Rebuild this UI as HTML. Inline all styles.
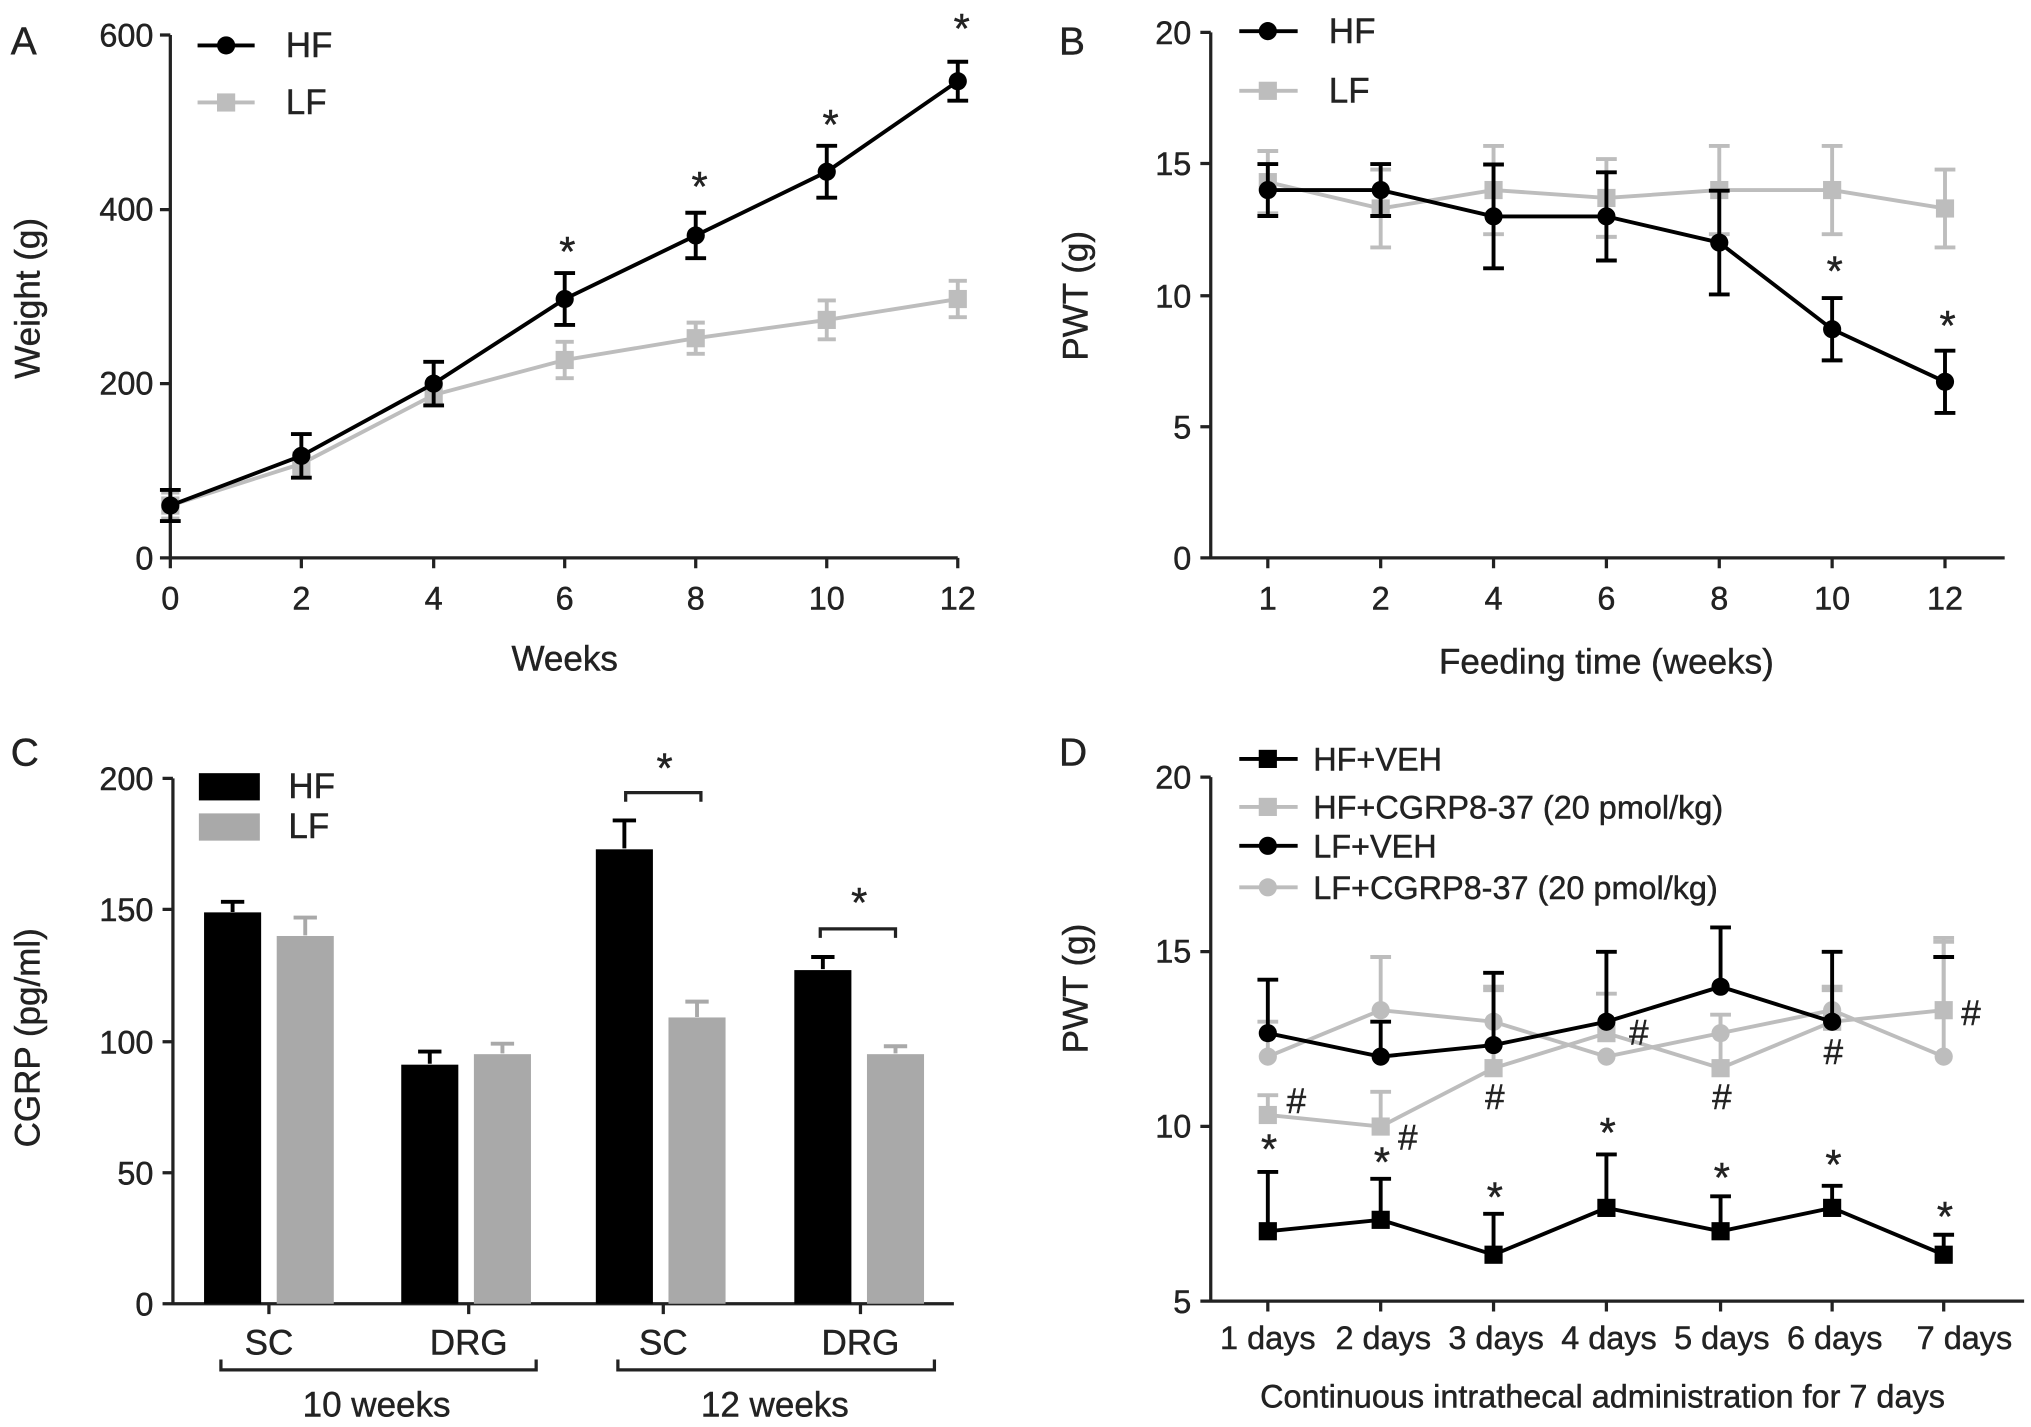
<!DOCTYPE html>
<html><head><meta charset="utf-8"><style>
html,body{margin:0;padding:0;background:#fff}
svg{display:block}
text{font-family:"Liberation Sans",Arial,sans-serif;fill:#222;stroke:#222;stroke-width:0.35px}
.t{font-size:25px}
.lg{font-size:27px}
.st{font-size:32px}
.k{stroke:#000;stroke-width:3;fill:none}
.g{stroke:#bdbdbd;stroke-width:3;fill:none}
.ax{stroke:#222;stroke-width:2.5;fill:none}
</style></head><body>
<svg width="2031" height="1427" viewBox="0 0 1565 1100" xmlns="http://www.w3.org/2000/svg">
<!-- ================= PANEL A ================= -->
<text x="8" y="42" style="font-size:30px">A</text>
<path class="ax" d="M131,27V430H738M123,27H131M123,161.6H131M123,295.7H131M123,430H131M131,430v8M232,430v8M334,430v8M435,430v8M536,430v8M637,430v8M738,430v8"/>
<g class="t" text-anchor="end"><text x="118" y="36">600</text><text x="118" y="170">400</text><text x="118" y="304">200</text><text x="118" y="439">0</text></g>
<g class="t" text-anchor="middle"><text x="131" y="470">0</text><text x="232" y="470">2</text><text x="334" y="470">4</text><text x="435" y="470">6</text><text x="536" y="470">8</text><text x="637" y="470">10</text><text x="738" y="470">12</text></g>
<text x="435" y="517" text-anchor="middle" class="lg">Weeks</text>
<text transform="translate(30,230) rotate(-90)" text-anchor="middle" class="lg">Weight  (g)</text>
<polyline class="g" points="131,389.7 232,357.5 334,304.4 435,277.5 536,260.7 637,246.6 738,230.5"/>
<path class="g" d="M131,379.7V399.7M124,379.7h14M124,399.7h14M232,349.5V365.5M225,349.5h14M225,365.5h14M334,297.4V311.4M327,297.4h14M327,311.4h14M435,263.5V291.5M428,263.5h14M428,291.5h14M536,248.7V272.7M529,248.7h14M529,272.7h14M637,231.6V261.6M630,231.6h14M630,261.6h14M738,216.5V244.5M731,216.5h14M731,244.5h14"/>
<g fill="#bdbdbd"><rect x="124" y="382.7" width="14" height="14"/><rect x="225" y="350.5" width="14" height="14"/><rect x="327" y="297.4" width="14" height="14"/><rect x="428" y="270.5" width="14" height="14"/><rect x="529" y="253.7" width="14" height="14"/><rect x="630" y="239.6" width="14" height="14"/><rect x="731" y="223.5" width="14" height="14"/></g>
<polyline class="k" points="131,389.7 232,351.4 334,295.7 435,230.5 536,181.5 637,132.4 738,62.6"/>
<path class="k" d="M131,377.7V401.7M123,377.7h16M123,401.7h16M232,334.6V368.2M224,334.6h16M224,368.2h16M334,278.9V312.5M326,278.9h16M326,312.5h16M435,210.5V250.5M427,210.5h16M427,250.5h16M536,164V199M528,164h16M528,199h16M637,112.4V152.4M629,112.4h16M629,152.4h16M738,47.6V77.6M730,47.6h16M730,77.6h16"/>
<g fill="#000"><circle cx="131" cy="389.7" r="7"/><circle cx="232" cy="351.4" r="7"/><circle cx="334" cy="295.7" r="7"/><circle cx="435" cy="230.5" r="7"/><circle cx="536" cy="181.5" r="7"/><circle cx="637" cy="132.4" r="7"/><circle cx="738" cy="62.6" r="7"/></g>
<g class="st" text-anchor="middle"><text x="437" y="205">*</text><text x="539" y="155">*</text><text x="640" y="107">*</text><text x="741" y="33">*</text></g>
<path class="k" d="M152,35H196"/><circle cx="174" cy="35" r="7"/>
<path class="g" d="M152,79H196"/><rect x="167" y="72" width="14" height="14" fill="#bdbdbd"/>
<text x="220" y="44" class="lg">HF</text><text x="220" y="88" class="lg">LF</text>

<!-- ================= PANEL B ================= -->
<text x="816" y="42" style="font-size:30px">B</text>
<path class="ax" d="M933,25V430H1545M925,25H933M925,126H933M925,228H933M925,329H933M925,430H933M977,430v8M1064,430v8M1151,430v8M1238,430v8M1325,430v8M1412,430v8M1499,430v8"/>
<g class="t" text-anchor="end"><text x="918" y="34">20</text><text x="918" y="135">15</text><text x="918" y="237">10</text><text x="918" y="338">5</text><text x="918" y="439">0</text></g>
<g class="t" text-anchor="middle"><text x="977" y="470">1</text><text x="1064" y="470">2</text><text x="1151" y="470">4</text><text x="1238" y="470">6</text><text x="1325" y="470">8</text><text x="1412" y="470">10</text><text x="1499" y="470">12</text></g>
<text x="1238" y="519" text-anchor="middle" class="lg">Feeding time (weeks)</text>
<text transform="translate(838,228) rotate(-90)" text-anchor="middle" class="lg">PWT  (g)</text>
<polyline class="g" points="977,140.4 1064,160.7 1151,146.5 1238,152.6 1325,146.5 1412,146.5 1499,160.7"/>
<path class="g" d="M977,116.4V164.4M969,116.4h16M969,164.4h16M1064,130.7V190.7M1056,130.7h16M1056,190.7h16M1151,112.5V180.5M1143,112.5h16M1143,180.5h16M1238,122.6V182.6M1230,122.6h16M1230,182.6h16M1325,112.5V180.5M1317,112.5h16M1317,180.5h16M1412,112.5V180.5M1404,112.5h16M1404,180.5h16M1499,130.7V190.7M1491,130.7h16M1491,190.7h16"/>
<g fill="#bdbdbd"><rect x="970" y="133.4" width="14" height="14"/><rect x="1057" y="153.7" width="14" height="14"/><rect x="1144" y="139.5" width="14" height="14"/><rect x="1231" y="145.6" width="14" height="14"/><rect x="1318" y="139.5" width="14" height="14"/><rect x="1405" y="139.5" width="14" height="14"/><rect x="1492" y="153.7" width="14" height="14"/></g>
<polyline class="k" points="977,146.5 1064,146.5 1151,166.8 1238,166.8 1325,187 1412,253.8 1499,294.3"/>
<path class="k" d="M977,126.5V166.5M969,126.5h16M969,166.5h16M1064,126.5V166.5M1056,126.5h16M1056,166.5h16M1151,126.8V206.8M1143,126.8h16M1143,206.8h16M1238,132.8V200.8M1230,132.8h16M1230,200.8h16M1325,147V227M1317,147h16M1317,227h16M1412,229.8V277.8M1404,229.8h16M1404,277.8h16M1499,270.3V318.3M1491,270.3h16M1491,318.3h16"/>
<g fill="#000"><circle cx="977" cy="146.5" r="7"/><circle cx="1064" cy="146.5" r="7"/><circle cx="1151" cy="166.8" r="7"/><circle cx="1238" cy="166.8" r="7"/><circle cx="1325" cy="187" r="7"/><circle cx="1412" cy="253.8" r="7"/><circle cx="1499" cy="294.3" r="7"/></g>
<g class="st" text-anchor="middle"><text x="1414" y="220">*</text><text x="1501" y="262">*</text></g>
<path class="k" d="M955,24H1000"/><circle cx="977" cy="24" r="7"/>
<path class="g" d="M955,70H1000"/><rect x="970" y="63" width="14" height="14" fill="#bdbdbd"/>
<text x="1024" y="33" class="lg">HF</text><text x="1024" y="79" class="lg">LF</text>

<!-- ================= PANEL C ================= -->
<text x="8" y="590" style="font-size:30px">C</text>
<path class="ax" d="M133,600V1005H735M125,600H133M125,701H133M125,803H133M125,904H133M125,1005H133M207,1005v8M361,1005v8M511,1005v8M663,1005v8"/>
<g class="t" text-anchor="end"><text x="118" y="609">200</text><text x="118" y="710">150</text><text x="118" y="812">100</text><text x="118" y="913">50</text><text x="118" y="1014">0</text></g>
<text transform="translate(30,800) rotate(-90)" text-anchor="middle" class="lg">CGRP (pg/ml)</text>
<g fill="#000"><rect x="157" y="703.3" width="44" height="301.7"/><rect x="309" y="820.7" width="44" height="184.3"/><rect x="459" y="654.7" width="44" height="350.3"/><rect x="612" y="747.8" width="44" height="257.2"/></g>
<g fill="#a9a9a9"><rect x="213" y="721.5" width="44" height="283.5"/><rect x="365" y="812.6" width="44" height="192.4"/><rect x="515" y="784.3" width="44" height="220.7"/><rect x="668" y="812.6" width="44" height="192.4"/></g>
<path class="k" d="M179,703V695.2M170,695.2h18M331,820V810.6M322,810.6h18M481,654V632.4M472,632.4h18M634,747V737.7M625,737.7h18"/>
<path class="g" style="stroke:#a9a9a9" d="M235,721V707.3M226,707.3h18M387,812V804.5M378,804.5h18M537,784V772.1M528,772.1h18M690,812V806.5M681,806.5h18"/>
<g class="lg" text-anchor="middle"><text x="207" y="1044">SC</text><text x="361" y="1044">DRG</text><text x="511" y="1044">SC</text><text x="663" y="1044">DRG</text><text x="290" y="1092">10 weeks</text><text x="597" y="1092">12 weeks</text></g>
<path class="ax" d="M170,1048V1056H413V1048M476,1048V1056H720V1048"/>
<path class="ax" d="M482,618V611H540V618M632,723V716H690V723"/>
<g class="st" text-anchor="middle"><text x="512" y="603">*</text><text x="662" y="707">*</text></g>
<rect x="153" y="596" width="47" height="21" fill="#000"/><rect x="153" y="627" width="47" height="21" fill="#a9a9a9"/>
<text x="222" y="615" class="lg">HF</text><text x="222" y="646" class="lg">LF</text>

<!-- ================= PANEL D ================= -->
<text x="816" y="590" style="font-size:30px">D</text>
<path class="ax" d="M933,599V1003H1560M925,599H933M925,733.6H933M925,868.3H933M925,1003H933M977,1003v8M1064,1003v8M1151,1003v8M1238,1003v8M1326,1003v8M1412,1003v8M1498,1003v8"/>
<g class="t" text-anchor="end"><text x="918" y="608">20</text><text x="918" y="742">15</text><text x="918" y="877">10</text><text x="918" y="1012">5</text></g>
<g class="t" text-anchor="middle"><text x="977" y="1040">1 days</text><text x="1066" y="1040">2 days</text><text x="1153" y="1040">3 days</text><text x="1240" y="1040">4 days</text><text x="1327" y="1040">5 days</text><text x="1414" y="1040">6 days</text><text x="1514" y="1040">7 days</text></g>
<text x="1235" y="1085" text-anchor="middle" class="t">Continuous intrathecal administration for 7 days</text>
<text transform="translate(838,762) rotate(-90)" text-anchor="middle" class="lg">PWT (g)</text>
<polyline class="g" points="977,859.5 1064,868.4 1151,823.4 1238,796.4 1326,823.4 1412,787.6 1498,778.7"/>
<path class="g" d="M977,859.5V844.2M969,844.2h16M1064,868.4V841.6M1056,841.6h16M1151,823.4V760.6M1143,760.6h16M1238,796.4V766M1230,766h16M1326,823.4V782.2M1318,782.2h16M1412,787.6V760.6M1404,760.6h16M1498,778.7V723M1490,723h16"/>
<g fill="#bdbdbd"><rect x="970" y="852.5" width="14" height="14"/><rect x="1057" y="861.4" width="14" height="14"/><rect x="1144" y="816.4" width="14" height="14"/><rect x="1231" y="789.4" width="14" height="14"/><rect x="1319" y="816.4" width="14" height="14"/><rect x="1405" y="780.6" width="14" height="14"/><rect x="1491" y="771.7" width="14" height="14"/></g>
<polyline class="g" points="977,814.5 1064,778.7 1151,787.6 1238,814.5 1326,796.4 1412,778.7 1498,814.5"/>
<path class="g" d="M977,814.5V787.6M969,787.6h16M1064,778.7V737.7M1056,737.7h16M1151,787.6V763.3M1143,763.3h16M1326,796.4V782.2M1412,778.7V763.3M1404,763.3h16M1498,814.5V726M1490,726h16"/>
<g fill="#bdbdbd"><circle cx="977" cy="814.5" r="7"/><circle cx="1064" cy="778.7" r="7"/><circle cx="1151" cy="787.6" r="7"/><circle cx="1238" cy="814.5" r="7"/><circle cx="1326" cy="796.4" r="7"/><circle cx="1412" cy="778.7" r="7"/><circle cx="1498" cy="814.5" r="7"/></g>
<polyline class="k" points="977,796.4 1064,814.5 1151,805.6 1238,787.6 1326,760.6 1412,787.6"/>
<path class="k" d="M977,796.4V755.2M969,755.2h16M1064,814.5V787.6M1056,787.6h16M1151,805.6V749.9M1143,749.9h16M1238,787.6V733.7M1230,733.7h16M1326,760.6V714.9M1318,714.9h16M1412,787.6V733.7M1404,733.7h16M1490,737.7h16"/>
<g fill="#000"><circle cx="977" cy="796.4" r="7"/><circle cx="1064" cy="814.5" r="7"/><circle cx="1151" cy="805.6" r="7"/><circle cx="1238" cy="787.6" r="7"/><circle cx="1326" cy="760.6" r="7"/><circle cx="1412" cy="787.6" r="7"/></g>
<polyline class="k" points="977,949.1 1064,940.3 1151,967.2 1238,931.1 1326,949.1 1412,931.1 1498,967.2"/>
<path class="k" d="M977,949.1V903.4M969,903.4h16M1064,940.3V908.7M1056,908.7h16M1151,967.2V935.7M1143,935.7h16M1238,931.1V889.9M1230,889.9h16M1326,949.1V922.2M1318,922.2h16M1412,931.1V914.1M1404,914.1h16M1498,967.2V951.8M1490,951.8h16"/>
<g fill="#000"><rect x="970" y="942.1" width="14" height="14"/><rect x="1057" y="933.3" width="14" height="14"/><rect x="1144" y="960.2" width="14" height="14"/><rect x="1231" y="924.1" width="14" height="14"/><rect x="1319" y="942.1" width="14" height="14"/><rect x="1405" y="924.1" width="14" height="14"/><rect x="1491" y="960.2" width="14" height="14"/></g>
<g class="st" text-anchor="middle"><text x="978" y="897">*</text><text x="1065" y="907">*</text><text x="1152" y="934">*</text><text x="1239" y="884">*</text><text x="1327" y="919">*</text><text x="1413" y="909">*</text><text x="1499" y="949">*</text></g>
<g class="lg" text-anchor="middle"><text x="999" y="858">#</text><text x="1085" y="886">#</text><text x="1152" y="855">#</text><text x="1263" y="805">#</text><text x="1327" y="855">#</text><text x="1413" y="820">#</text><text x="1519" y="790">#</text></g>
<path class="k" d="M955,585H1000"/><rect x="970" y="578" width="14" height="14" fill="#000"/>
<path class="g" d="M955,622H1000"/><rect x="970" y="615" width="14" height="14" fill="#bdbdbd"/>
<path class="k" d="M955,652H1000"/><circle cx="977" cy="652" r="7"/>
<path class="g" d="M955,684H1000"/><circle cx="977" cy="684" r="7" fill="#bdbdbd"/>
<g class="t"><text x="1012" y="594">HF+VEH</text><text x="1012" y="631">HF+CGRP8-37 (20 pmol/kg)</text><text x="1012" y="661">LF+VEH</text><text x="1012" y="693">LF+CGRP8-37 (20 pmol/kg)</text></g>
</svg>
</body></html>
